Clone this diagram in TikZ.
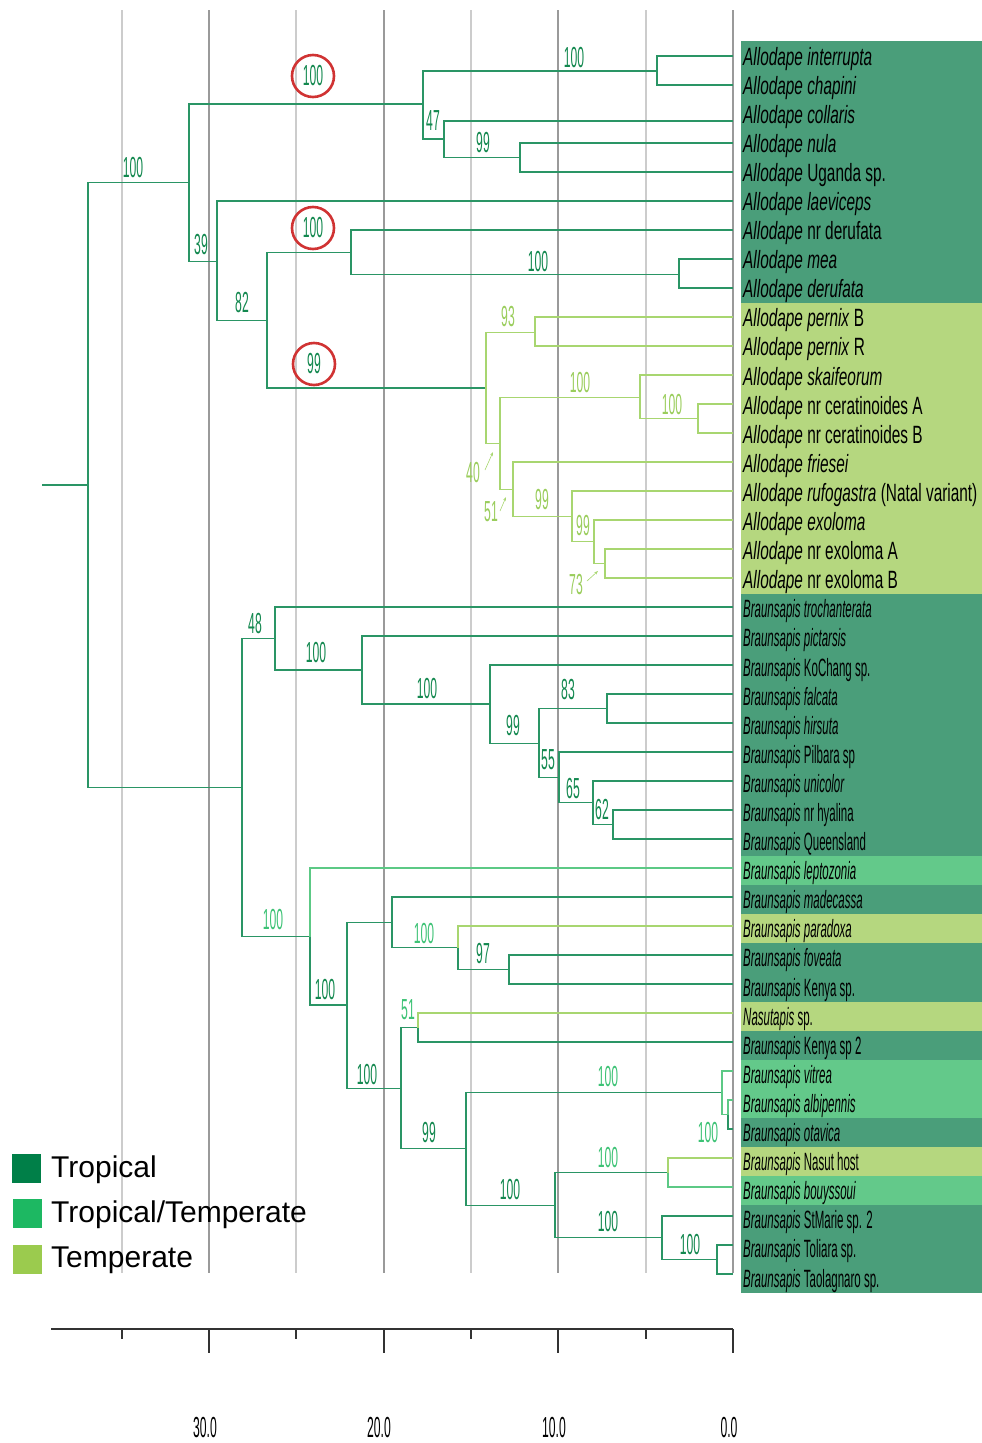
\documentclass[tikz,border=0pt]{standalone}
\usepackage{fontspec}
\setmainfont{Liberation Sans}
\usepackage{graphicx}
\usetikzlibrary{arrows.meta}
\definecolor{tdark}{HTML}{2A9565}
\definecolor{tlight}{HTML}{A8D670}
\definecolor{tmed}{HTML}{5CC985}
\definecolor{ldark}{HTML}{13884F}
\definecolor{llight}{HTML}{9ACD5C}
\definecolor{lmed}{HTML}{3DC275}
\definecolor{bdark}{HTML}{4A9E7A}
\definecolor{blight}{HTML}{B5D77F}
\definecolor{bmed}{HTML}{63C98A}
\definecolor{gtrop}{HTML}{007F48}
\definecolor{gtt}{HTML}{1DB862}
\definecolor{gtemp}{HTML}{9BCB4E}
\definecolor{gridmin}{HTML}{CCCCCC}
\definecolor{gridmaj}{HTML}{9A9A9A}
\definecolor{redc}{HTML}{D03333}
\newcommand\supnum[1]{\scalebox{0.42}[1]{\fontsize{29}{29}\selectfont #1}}
\newcommand\taxa[1]{\scalebox{0.615}[1]{\fontsize{25}{25}\selectfont #1}}
\newcommand\taxb[1]{\scalebox{0.46}[1]{\fontsize{25}{25}\selectfont #1}}
\begin{document}
\begin{tikzpicture}[x=1pt,y=-1pt,
 br/.style={draw=tdark,line width=1.4pt},
 brl/.style={draw=tlight,line width=1.4pt},
 brm/.style={draw=tmed,line width=1.4pt},
 suplbl/.style={inner sep=0pt,text=ldark},
 suplight/.style={inner sep=0pt,text=llight},
 supmed/.style={inner sep=0pt,text=lmed},
 redring/.style={circle,draw=redc,line width=2.6pt,minimum size=42pt,inner sep=0pt,text=ldark},
 supar/.style={draw=tlight,line width=0.6pt,-{Stealth[length=4pt,width=3pt]}},
 taxlbl/.style={anchor=base west,inner sep=0pt,text=black},
 gmin/.style={draw=gridmin,line width=1.1pt},
 gmaj/.style={draw=gridmaj,line width=1.1pt},
 axisln/.style={draw=black!80,line width=1.1pt},
 legsq/.style={minimum size=29pt,inner sep=0pt},
 legtxt/.style={anchor=base west,inner sep=0pt,font=\fontsize{30}{30}\selectfont}
]
\useasboundingbox (0,0) rectangle (982,1443);
% grid
\foreach \gx in {122,296,471,646} {\draw[gmin] (\gx,10) -- (\gx,1273);}
\foreach \gx in {209,384,558,733} {\draw[gmaj] (\gx,10) -- (\gx,1273);}
% bands
\fill[bdark] (741,41.45) rectangle (982,303.4);
\fill[blight] (741,303.4) rectangle (982,594.3);
\fill[bdark] (741,594.3) rectangle (982,856.2);
\fill[bmed] (741,856.2) rectangle (982,885.3);
\fill[bdark] (741,885.3) rectangle (982,914.4);
\fill[blight] (741,914.4) rectangle (982,943.4);
\fill[bdark] (741,943.4) rectangle (982,1001.6);
\fill[blight] (741,1001.6) rectangle (982,1030.7);
\fill[bdark] (741,1030.7) rectangle (982,1059.8);
\fill[bmed] (741,1059.8) rectangle (982,1118.0);
\fill[bdark] (741,1118.0) rectangle (982,1147.1);
\fill[blight] (741,1147.1) rectangle (982,1176.2);
\fill[bmed] (741,1176.2) rectangle (982,1205.3);
\fill[bdark] (741,1205.3) rectangle (982,1292.6);
% leaves
\foreach \k in {0,1,3,4,5,...,42} {\coordinate (L\k) at (733,{56+29*\k});}
\coordinate (L2) at (733,121);
% internal nodes
\coordinate (stem) at (42,485);
\coordinate (R) at (88,485);
\coordinate (A) at (189,182.6);
\coordinate (B) at (242,787.5);
\coordinate (A1) at (423,104);
\coordinate (A11) at (657,71);
\coordinate (A12) at (444,139);
\coordinate (A121) at (520,157.5);
\coordinate (A2) at (217,261.2);
\coordinate (A21) at (267,320.3);
\coordinate (A211) at (351,252.75);
\coordinate (A2111) at (679,274.5);
\coordinate (A212) at (486,387.9);
\coordinate (A2121) at (535,332.5);
\coordinate (A2122) at (500,443.3);
\coordinate (A21221) at (640,397.25);
\coordinate (A212211) at (698,418.5);
\coordinate (A21222) at (513,489.25);
\coordinate (A212221) at (572,516.5);
\coordinate (A2122211) at (594,541.75);
\coordinate (A21222111) at (605,563.5);
\coordinate (B1) at (275,638.5);
\coordinate (B11) at (362,670);
\coordinate (B111) at (490,704);
\coordinate (B1111) at (539,743.25);
\coordinate (B11111) at (607,708.5);
\coordinate (B11112) at (559,777.75);
\coordinate (B111121) at (593,802.75);
\coordinate (B1111211) at (613,824.5);
\coordinate (B2) at (310,936.5);
\coordinate (B21) at (347,1005);
\coordinate (B211) at (392,922.4);
\coordinate (B2111) at (458,947.75);
\coordinate (B21111) at (509,969.5);
\coordinate (B212) at (401,1088.25);
\coordinate (B2121) at (418,1027.5);
\coordinate (B2122) at (466,1148.6);
\coordinate (B21221) at (722,1092.75);
\coordinate (B212211) at (728,1114.5);
\coordinate (B21222) at (555,1205.25);
\coordinate (B212221) at (668,1172.5);
\coordinate (B212222) at (662,1237.75);
\coordinate (B2122221) at (717,1259.5);
% tree edges
\draw[br] (stem) -- (R);
\draw[br] (R) |- (A); \draw[br] (R) |- (B);
\draw[br] (A) |- (A1); \draw[br] (A) |- (A2);
\draw[br] (A1) |- (A11); \draw[br] (A1) |- (A12);
\draw[br] (A11) |- (L0); \draw[br] (A11) |- (L1);
\draw[br] (A12) |- (L2); \draw[br] (A12) |- (A121);
\draw[br] (A121) |- (L3); \draw[br] (A121) |- (L4);
\draw[br] (A2) |- (L5); \draw[br] (A2) |- (A21);
\draw[br] (A21) |- (A211); \draw[br] (A21) |- (A212);
\draw[br] (A211) |- (L6); \draw[br] (A211) |- (A2111);
\draw[br] (A2111) |- (L7); \draw[br] (A2111) |- (L8);
\draw[brl] (A212) |- (A2121); \draw[brl] (A212) |- (A2122);
\draw[brl] (A2121) |- (L9); \draw[brl] (A2121) |- (L10);
\draw[brl] (A2122) |- (A21221); \draw[brl] (A2122) |- (A21222);
\draw[brl] (A21221) |- (L11); \draw[brl] (A21221) |- (A212211);
\draw[brl] (A212211) |- (L12); \draw[brl] (A212211) |- (L13);
\draw[brl] (A21222) |- (L14); \draw[brl] (A21222) |- (A212221);
\draw[brl] (A212221) |- (L15); \draw[brl] (A212221) |- (A2122211);
\draw[brl] (A2122211) |- (L16); \draw[brl] (A2122211) |- (A21222111);
\draw[brl] (A21222111) |- (L17); \draw[brl] (A21222111) |- (L18);
\draw[br] (B) |- (B1); \draw[br] (B) |- (B2);
\draw[br] (B1) |- (L19); \draw[br] (B1) |- (B11);
\draw[br] (B11) |- (L20); \draw[br] (B11) |- (B111);
\draw[br] (B111) |- (L21); \draw[br] (B111) |- (B1111);
\draw[br] (B1111) |- (B11111); \draw[br] (B1111) |- (B11112);
\draw[br] (B11111) |- (L22); \draw[br] (B11111) |- (L23);
\draw[br] (B11112) |- (L24); \draw[br] (B11112) |- (B111121);
\draw[br] (B111121) |- (L25); \draw[br] (B111121) |- (B1111211);
\draw[br] (B1111211) |- (L26); \draw[br] (B1111211) |- (L27);
\draw[brm] (B2) |- (L28); \draw[br] (B2) |- (B21);
\draw[br] (B21) |- (B211); \draw[br] (B21) |- (B212);
\draw[br] (B211) |- (L29); \draw[br] (B211) |- (B2111);
\draw[brl] (B2111) |- (L30); \draw[br] (B2111) |- (B21111);
\draw[br] (B21111) |- (L31); \draw[br] (B21111) |- (L32);
\draw[br] (B212) |- (B2121); \draw[br] (B212) |- (B2122);
\draw[brl] (B2121) |- (L33); \draw[br] (B2121) |- (L34);
\draw[br] (B2122) |- (B21221); \draw[br] (B2122) |- (B21222);
\draw[brm] (B21221) |- (L35); \draw[brm] (B21221) |- (B212211);
\draw[brm] (B212211) |- (L36); \draw[br] (B212211) |- (L37);
\draw[br] (B21222) |- (B212221); \draw[br] (B21222) |- (B212222);
\draw[brl] (B212221) |- (L38); \draw[brm] (B212221) |- (L39);
\draw[br] (B212222) |- (L40); \draw[br] (B212222) |- (B2122221);
\draw[br] (B2122221) |- (L41); \draw[br] (B2122221) |- (L42);
% support values
\node[suplbl] (s1) at (133,168) {\supnum{100}};
\node[redring] (c1) at (313,76) {\supnum{100}};
\node[suplbl] (s2) at (433,121) {\supnum{47}};
\node[suplbl] (s3) at (483,143) {\supnum{99}};
\node[suplbl] (s4) at (574,58) {\supnum{100}};
\node[suplbl] (s5) at (201,245) {\supnum{39}};
\node[suplbl] (s6) at (242,303) {\supnum{82}};
\node[redring] (c2) at (313,228) {\supnum{100}};
\node[suplbl] (s7) at (538,262) {\supnum{100}};
\node[redring] (c3) at (314,364) {\supnum{99}};
\node[suplight] (s8) at (508,317) {\supnum{93}};
\node[suplight] (s9) at (580,383) {\supnum{100}};
\node[suplight] (s10) at (672,405) {\supnum{100}};
\node[suplight] (s11) at (473,473) {\supnum{40}};
\node[suplight] (s12) at (491,512) {\supnum{51}};
\node[suplight] (s13) at (542,500) {\supnum{99}};
\node[suplight] (s14) at (583,526) {\supnum{99}};
\node[suplight] (s15) at (576,585) {\supnum{73}};
\node[suplbl] (s16) at (255,624) {\supnum{48}};
\node[suplbl] (s17) at (316,653) {\supnum{100}};
\node[suplbl] (s18) at (427,689) {\supnum{100}};
\node[suplbl] (s19) at (513,726) {\supnum{99}};
\node[suplbl] (s20) at (568,690) {\supnum{83}};
\node[suplbl] (s21) at (548,760) {\supnum{55}};
\node[suplbl] (s22) at (573,789) {\supnum{65}};
\node[suplbl] (s23) at (602,810) {\supnum{62}};
\node[supmed] (s24) at (273,920) {\supnum{100}};
\node[suplbl] (s25) at (325,990) {\supnum{100}};
\node[supmed] (s26) at (424,934) {\supnum{100}};
\node[suplbl] (s27) at (483,954) {\supnum{97}};
\node[supmed] (s28) at (408,1010) {\supnum{51}};
\node[suplbl] (s29) at (367,1075) {\supnum{100}};
\node[suplbl] (s30) at (429,1133) {\supnum{99}};
\node[supmed] (s31) at (608,1077) {\supnum{100}};
\node[supmed] (s32) at (708,1133) {\supnum{100}};
\node[suplbl] (s33) at (510,1190) {\supnum{100}};
\node[supmed] (s34) at (608,1158) {\supnum{100}};
\node[suplbl] (s35) at (608,1222) {\supnum{100}};
\node[suplbl] (s36) at (690,1245) {\supnum{100}};
% small pointers
\coordinate (p40a) at (485,470); \coordinate (p40b) at (493,452);
\coordinate (p51a) at (500,511); \coordinate (p51b) at (506,497);
\coordinate (p73a) at (587,581); \coordinate (p73b) at (598,571);
\draw[supar] (p40a) -- (p40b);
\draw[supar] (p51a) -- (p51b);
\draw[supar] (p73a) -- (p73b);
% taxon labels
\foreach \i/\t in {0/{\textit{Allodape interrupta}},1/{\textit{Allodape chapini}},2/{\textit{Allodape collaris}},3/{\textit{Allodape nula}},4/{\textit{Allodape} Uganda sp.},5/{\textit{Allodape laeviceps}},6/{\textit{Allodape} nr derufata},7/{\textit{Allodape mea}},8/{\textit{Allodape derufata}},9/{\textit{Allodape pernix} B},10/{\textit{Allodape pernix} R},11/{\textit{Allodape skaifeorum}},12/{\textit{Allodape} nr ceratinoides A},13/{\textit{Allodape} nr ceratinoides B},14/{\textit{Allodape friesei}},15/{\textit{Allodape rufogastra} (Natal variant)},16/{\textit{Allodape exoloma}},17/{\textit{Allodape} nr exoloma A},18/{\textit{Allodape} nr exoloma B}}
 {\node[taxlbl] (tx\i) at (743,{65+29.095*\i}) {\taxa{\t}};}
\foreach \i/\t in {19/{\textit{Braunsapis trochanterata}},20/{\textit{Braunsapis pictarsis}},21/{\textit{Braunsapis} KoChang sp.},22/{\textit{Braunsapis falcata}},23/{\textit{Braunsapis hirsuta}},24/{\textit{Braunsapis} Pilbara sp},25/{\textit{Braunsapis unicolor}},26/{\textit{Braunsapis} nr hyalina},27/{\textit{Braunsapis} Queensland},28/{\textit{Braunsapis leptozonia}},29/{\textit{Braunsapis madecassa}},30/{\textit{Braunsapis paradoxa}},31/{\textit{Braunsapis foveata}},32/{\textit{Braunsapis} Kenya sp.},33/{\textit{Nasutapis} sp.},34/{\textit{Braunsapis} Kenya sp 2},35/{\textit{Braunsapis vitrea}},36/{\textit{Braunsapis albipennis}},37/{\textit{Braunsapis otavica}},38/{\textit{Braunsapis} Nasut host},39/{\textit{Braunsapis bouyssoui}},40/{\textit{Braunsapis} StMarie sp. 2},41/{\textit{Braunsapis} Toliara sp.},42/{\textit{Braunsapis} Taolagnaro sp.}}
 {\node[taxlbl] (tx\i) at (743,{65+29.095*\i}) {\taxb{\t}};}
% legend
\node[legsq,fill=gtrop] (q1) at (26.5,1168) {};
\node[legsq,fill=gtt] (q2) at (27.5,1213.5) {};
\node[legsq,fill=gtemp] (q3) at (27.5,1259) {};
\node[legtxt] (g1) at (51,1177) {Tropical};
\node[legtxt] (g2) at (51,1222) {Tropical/Temperate};
\node[legtxt] (g3) at (51,1267) {Temperate};
% axis
\coordinate (ax0) at (51,1329); \coordinate (ax1) at (733,1329);
\draw[axisln] (ax0) -- (ax1);
\foreach \tx in {209,384,558,733} {\draw[axisln] (\tx,1329) -- (\tx,1353);}
\foreach \tx in {122,296,471,646} {\draw[axisln] (\tx,1329) -- (\tx,1339);}
\node[inner sep=0pt] (a30) at (205,1427) {\supnum{30.0}};
\node[inner sep=0pt] (a20) at (379,1427) {\supnum{20.0}};
\node[inner sep=0pt] (a10) at (554,1427) {\supnum{10.0}};
\node[inner sep=0pt] (a0) at (729,1427) {\supnum{0.0}};
\end{tikzpicture}
\end{document}
